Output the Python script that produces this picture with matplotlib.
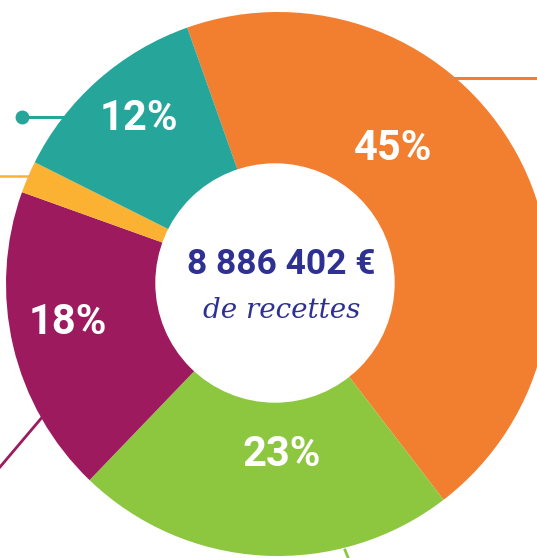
import matplotlib
matplotlib.use("Agg")
import matplotlib.pyplot as plt
from matplotlib.patches import Circle

labels = ['45%', '23%', '18%', '', '12%']
shares = [45, 22.6, 18.3, 1.9, 12.2]
colors = ['#F27E2F', '#8DC63F', '#9E1A5F', '#FBB232', '#26A69A']
total_text = '8 886 402 €'
sub_text = 'de recettes'

W, H = 537, 558
fig = plt.figure(figsize=(W / 100, H / 100), dpi=100)
ax = fig.add_axes([0, 0, 1, 1])

# callout lines (drawn under the ring)
ax.plot([22, 84], [H - 117, H - 117], color='#26A69A', lw=2.2, zorder=1)
ax.plot([22], [H - 117], 'o', color='#26A69A', ms=9, zorder=1)
ax.plot([0, 28], [H - 176, H - 176], color='#FBB232', lw=1.8, zorder=1)
ax.plot([455, W], [H - 78, H - 78], color='#F27E2F', lw=2.2, zorder=1)
ax.plot([0, 55], [H - 467, H - 402], color='#9E1A5F', lw=2.0, zorder=1)
ax.plot([345, 349], [H - 550, H - 560], color='#8DC63F', lw=2.0, zorder=1)

wedges, _ = ax.pie(shares, colors=colors, startangle=90 + 19.5, counterclock=False,
                   radius=272, center=(278, H - 284),
                   wedgeprops=dict(linewidth=0))
for w in wedges:
    w.set_zorder(2)
# the hole
ax.add_patch(Circle((275, H - 283), 119, color='white', zorder=2.5))

ax.set_xlim(0, W)
ax.set_ylim(0, H)
ax.set_aspect('equal')
ax.axis('off')

# percent labels
label_pos = [(393, 148), (282, 455), (68, 322), None, (139, 118)]
for lab, pos in zip(labels, label_pos):
    if pos is None:
        continue
    ax.text(pos[0], H - pos[1], lab, color='white', fontsize=30, fontweight='bold',
            family='Roboto', ha='center', va='center', zorder=3)

ax.text(281, H - 265, total_text, color='#2E3192', fontsize=25.5, fontweight='bold',
        family='Roboto', ha='center', va='center', zorder=3)
ax.text(282, H - 311, sub_text, color='#2E3192', fontsize=20, style='italic',
        family='DejaVu Serif', ha='center', va='center', zorder=3)

fig.savefig('out.png', dpi=100)
